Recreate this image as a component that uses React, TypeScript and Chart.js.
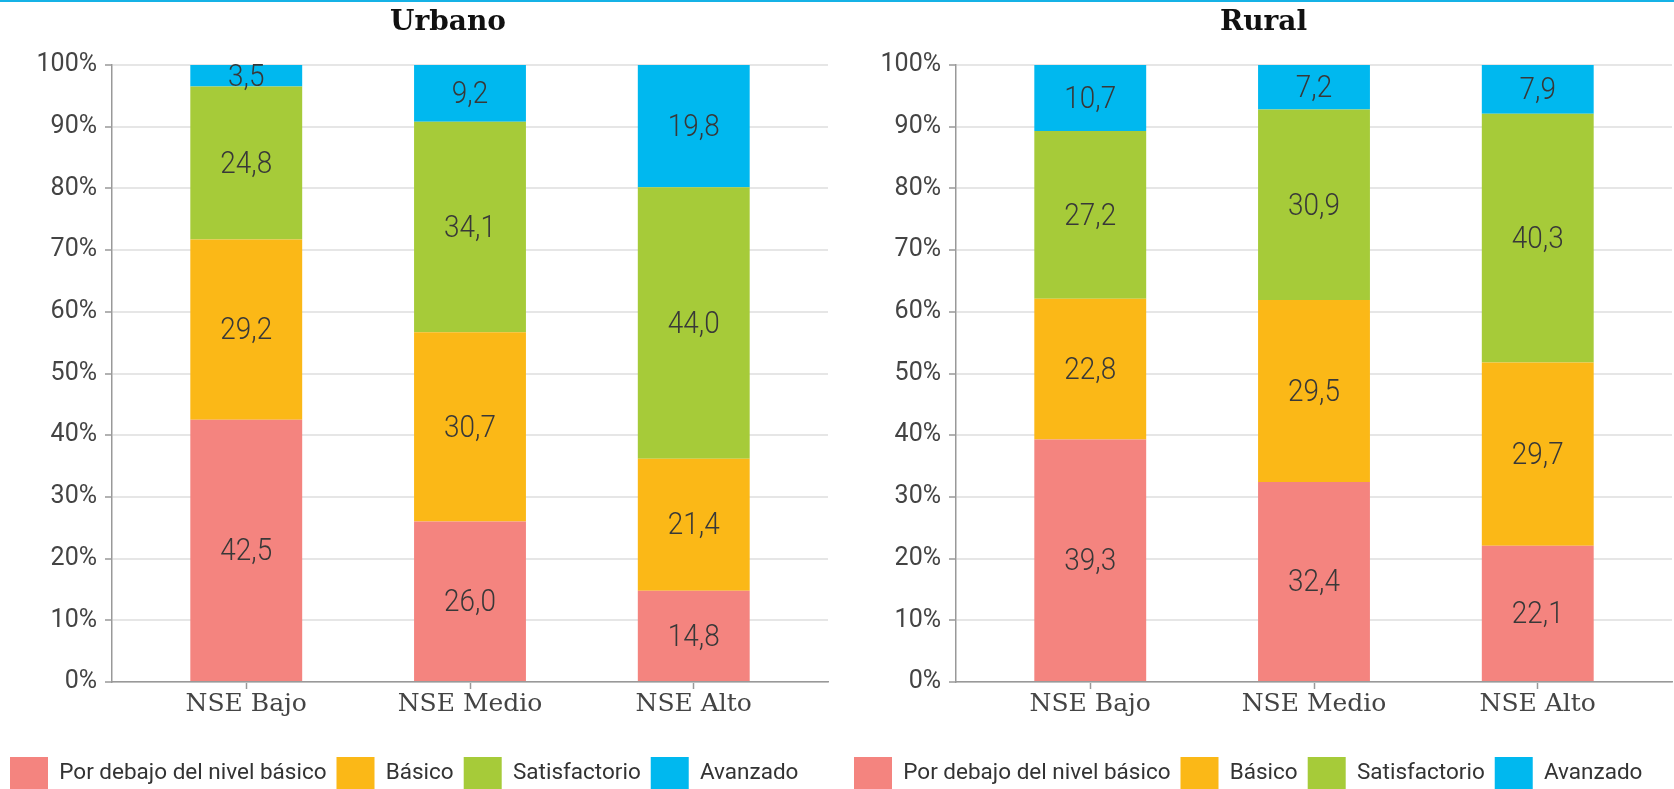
import React, { useEffect, useRef } from 'react';
import { Chart, registerables } from 'chart.js';

Chart.register(...registerables);

const categories = ['NSE Bajo', 'NSE Medio', 'NSE Alto'];
const seriesNames = ['Por debajo del nivel básico', 'Básico', 'Satisfactorio', 'Avanzado'];
const seriesColors = ['#F4847F', '#FBB817', '#A6CB39', '#00B8EF'];

const urbanoPorDebajo = [42.5, 26.0, 14.8];
const urbanoBasico = [29.2, 30.7, 21.4];
const urbanoSatisfactorio = [24.8, 34.1, 44.0];
const urbanoAvanzado = [3.5, 9.2, 19.8];

const ruralPorDebajo = [39.3, 32.4, 22.1];
const ruralBasico = [22.8, 29.5, 29.7];
const ruralSatisfactorio = [27.2, 30.9, 40.3];
const ruralAvanzado = [10.7, 7.2, 7.9];

const yMin = 0;
const yMax = 100;
const yStep = 10;

const valueLabelPlugin = {
  id: 'valueLabels',
  afterDatasetsDraw(chart: any) {
    const ctx = chart.ctx;
    ctx.save();
    ctx.fillStyle = '#383838';
    ctx.font = '300 31px Roboto';
    ctx.textAlign = 'center';
    ctx.textBaseline = 'middle';
    chart.data.datasets.forEach((ds: any, i: number) => {
      const meta = chart.getDatasetMeta(i);
      meta.data.forEach((el: any, j: number) => {
        const { x, y, base } = el.getProps(['x', 'y', 'base'], true);
        const v = ds.data[j].y;
        const text = v.toFixed(1).replace('.', ',');
        ctx.save();
        ctx.translate(x, (y + base) / 2 + 2);
        ctx.scale(0.9, 1);
        ctx.fillText(text, 0, 0);
        ctx.restore();
      });
    });
    ctx.restore();
  },
};

type PanelProps = {
  title: string;
  series: number[][];
  left: number;
  width: number;
};

const CANVAS_H = 799;
const PLOT_RIGHT = 828;

function Panel({ title, series, left, width }: PanelProps) {
  const ref = useRef<HTMLCanvasElement | null>(null);
  useEffect(() => {
    if (!ref.current) return;
    const chart = new Chart(ref.current, {
      type: 'bar',
      data: {
        datasets: series.map((vals, i) => ({
          label: seriesNames[i],
          data: vals.map((v, k) => ({ x: k, y: v })),
          backgroundColor: seriesColors[i],
          borderWidth: 0,
          barPercentage: 0.5,
          categoryPercentage: 1.0,
          yAxisID: 'y',
        })),
      },
      options: {
        animation: false,
        responsive: false,
        maintainAspectRatio: false,
        layout: { padding: 0 },
        plugins: {
          title: {
            display: true,
            text: title,
            color: '#111',
            font: { family: 'DejaVu Serif', size: 28, weight: 'bold', lineHeight: 1.2 },
            padding: { top: 6, bottom: 25.4 },
          },
          legend: {
            position: 'bottom',
            align: 'start',
            labels: {
              boxWidth: 38,
              boxHeight: 32,
              padding: 10,
              color: '#333',
              font: { family: 'Roboto', size: 22.5 },
            },
          },
          tooltip: { enabled: false },
        },
        scales: {
          x: {
            type: 'linear',
            min: -0.6,
            max: 2.6,
            offset: false,
            stacked: true,
            afterBuildTicks: (s: any) => {
              s.ticks = categories.map((_, i) => ({ value: i }));
            },
            afterFit: (s: any) => {
              s.height = 65;
            },
            ticks: {
              callback: (v: any) => categories[v] ?? '',
              color: '#444',
              font: { family: 'DejaVu Serif', size: 25 },
              padding: 0,
              autoSkip: false,
              maxRotation: 0,
            },
            grid: { offset: false, drawOnChartArea: false, tickLength: 7, tickColor: '#999', tickWidth: 1.5 },
            border: { color: '#999', width: 1.5 },
          },
          y: {
            min: yMin,
            max: yMax,
            stacked: true,
            afterFit: (s: any) => {
              s.width = 112;
            },
            ticks: {
              stepSize: yStep,
              callback: (v: any) => v + '%',
              color: '#444',
              font: { family: 'Roboto', size: 25 },
              padding: 8,
            },
            grid: { color: '#e6e6e6', lineWidth: 2, tickLength: 7, tickColor: '#999', tickWidth: 1.5 },
            border: { color: '#999', width: 1.5 },
          },
          spacer: {
            type: 'linear',
            position: 'right',
            display: true,
            grid: { display: false },
            ticks: { display: false },
            border: { display: false },
            afterFit: (s: any) => {
              s.width = width - PLOT_RIGHT;
            },
          },
        },
      },
      plugins: [valueLabelPlugin],
    } as any);
    return () => chart.destroy();
  }, []);
  return (
    <canvas
      ref={ref}
      width={width}
      height={CANVAS_H}
      style={{ position: 'absolute', left, top: 0, width, height: CANVAS_H }}
    />
  );
}

export default function App() {
  return (
    <div
      style={{
        position: 'fixed',
        left: 0,
        top: 0,
        width: 1674,
        height: 789,
        overflow: 'hidden',
        background: '#fff',
      }}
    >
      <Panel
        title="Urbano"
        series={[urbanoPorDebajo, urbanoBasico, urbanoSatisfactorio, urbanoAvanzado]}
        left={0}
        width={896}
      />
      <Panel
        title="Rural"
        series={[ruralPorDebajo, ruralBasico, ruralSatisfactorio, ruralAvanzado]}
        left={844}
        width={839}
      />
      <div style={{ position: 'absolute', left: 0, top: 0, width: 1674, height: 2, background: '#15b2e6' }} />
    </div>
  );
}
